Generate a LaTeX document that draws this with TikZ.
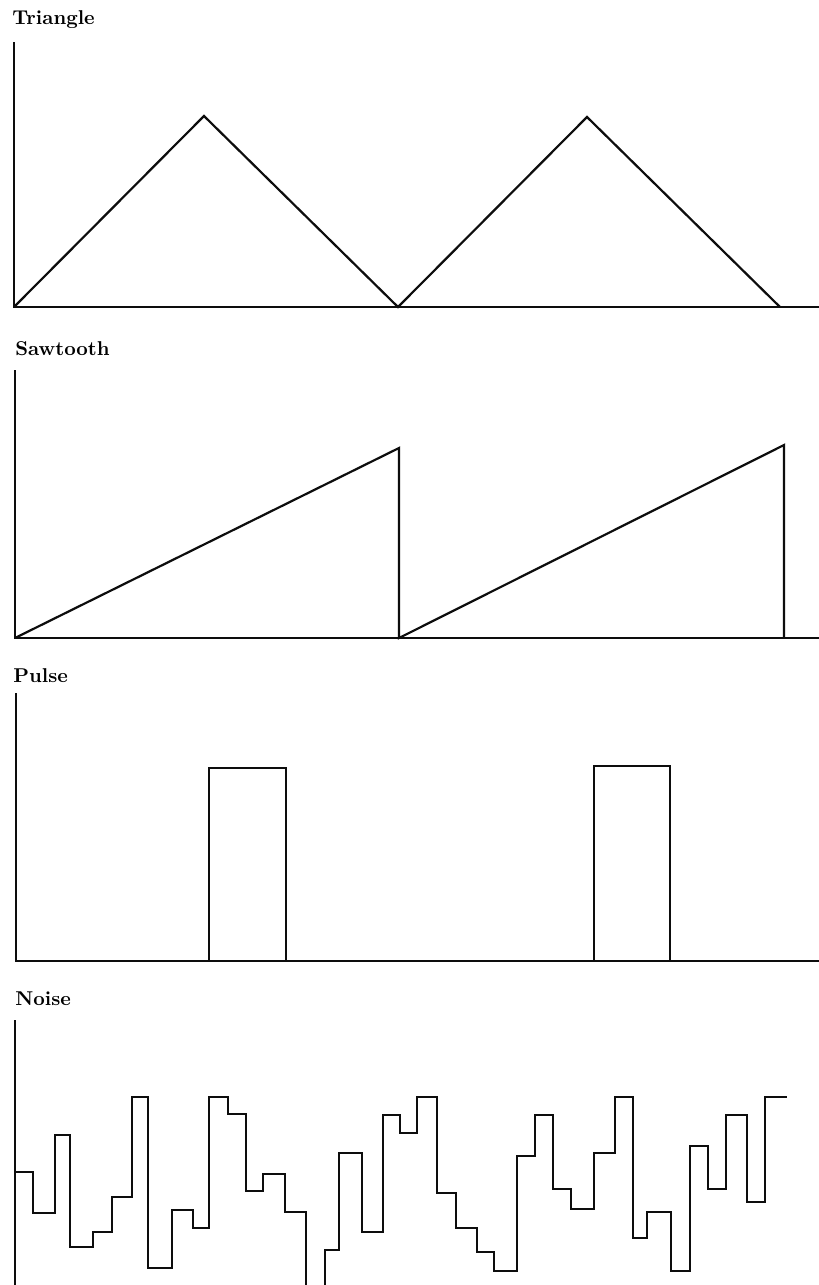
\documentclass[tikz,border=0pt]{standalone}
\usepackage{tikz}
\usetikzlibrary{positioning}

\tikzset{
  axis/.style={black!95, line width=1pt},
  wave/.style={black!95, line width=1.1pt, line join=miter},
  title/.style={font=\bfseries, anchor=base west, inner sep=0pt}
}

\begin{document}
\begin{tikzpicture}[x=0.5pt, y=-0.5pt]
\clip (0,0) rectangle (819,1285);
\fill [white] (0,0) rectangle (819,1285);
\node [title] (tri)   at (12,25)   {Triangle};
\draw [axis] (14,42) -- (14,307) -- (819,307);
\draw [wave] (14,307) -- (204,116) -- (398,307) -- (587,117) -- (780,307);
\node [title] (saw)   at (15,355)  {Sawtooth};
\draw [axis] (15,370) -- (15,638) -- (819,638);
\draw [wave] (15,638) -- (399,448) -- (399,638) -- (784,445) -- (784,638);
\node [title] (pulse) at (13,682)  {Pulse};
\draw [axis] (16,693) -- (16,961) -- (819,961);
\draw [wave] (209,961) -- (209,768) -- (286,768) -- (286,961);
\draw [wave] (594,961) -- (594,766) -- (670,766) -- (670,961);
\node [title] (noise) at (15,1005) {Noise};
\draw [axis] (15,1020) -- (15,1300);
\draw [wave] (15,1172) -| (33,1213) -| (55,1135) -| (70,1247) -| (93,1232)
  -| (112,1197) -| (132,1097) -| (148,1268) -| (172,1210) -| (193,1228)
  -| (209,1097) -| (228,1114) -| (246,1191) -| (263,1174) -| (285,1212)
  -| (306,1300) -| (325,1250) -| (339,1153) -| (362,1232) -| (383,1115)
  -| (400,1133) -| (417,1097) -| (437,1193) -| (456,1228) -| (477,1252)
  -| (494,1271) -| (517,1156) -| (535,1115) -| (553,1189) -| (571,1209)
  -| (594,1153) -| (615,1097) -| (633,1238) -| (647,1212) -| (671,1271)
  -| (690,1146) -| (708,1189) -| (726,1115) -| (747,1202) -| (765,1097)
  -- (787,1097);
\end{tikzpicture}
\end{document}
